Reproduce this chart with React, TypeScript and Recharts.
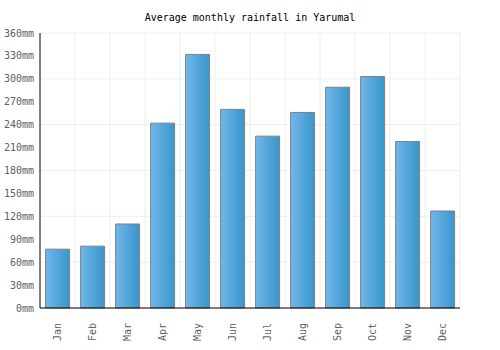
import { Bar, BarChart, CartesianGrid, XAxis, YAxis } from 'recharts'

const months = ['Jan', 'Feb', 'Mar', 'Apr', 'May', 'Jun', 'Jul', 'Aug', 'Sep', 'Oct', 'Nov', 'Dec']
const rainfall = [77, 81, 110, 242, 332, 260, 225, 256, 289, 303, 218, 127]
const yTicks = [0, 30, 60, 90, 120, 150, 180, 210, 240, 270, 300, 330, 360]

const data = months.map((month, i) => ({ month, rainfall: rainfall[i] }))

const font = '"DejaVu Sans Mono", monospace'

function MonthTick({ x, y, payload }: any) {
  return (
    <text
      transform={`translate(${x}, ${y + 7}) rotate(-90)`}
      textAnchor="end"
      dy="0.35em"
      fill="#606060"
      fontSize={10}
      fontFamily={font}
    >
      {payload.value}
    </text>
  )
}

export default function App() {
  return (
    <div style={{ position: 'absolute', left: 0, top: 0, width: 500, height: 350, background: '#fff' }}>
      <div
        style={{
          position: 'absolute',
          top: 12,
          width: 500,
          textAlign: 'center',
          fontFamily: font,
          fontSize: 10,
          color: '#000',
        }}
      >
        Average monthly rainfall in Yarumal
      </div>
      <BarChart
        width={500}
        height={350}
        data={data}
        margin={{ top: 33, right: 40, bottom: 0, left: 0 }}
        barCategoryGap="16%"
      >
        <defs>
          <linearGradient id="barFill" x1="0" y1="0" x2="1" y2="0">
            <stop offset="0%" stopColor="#72b6ea" />
            <stop offset="100%" stopColor="#3796cc" />
          </linearGradient>
        </defs>
        <CartesianGrid
          stroke="#eeeeee"
          verticalCoordinatesGenerator={({ offset }: any) =>
            months.map((_, i) => offset.left + ((i + 1) * offset.width) / months.length)
          }
        />
        <XAxis
          dataKey="month"
          height={42}
          tickLine={false}
          axisLine={{ stroke: '#000' }}
          tick={<MonthTick />}
          interval={0}
        />
        <YAxis
          width={40}
          domain={[0, 360]}
          ticks={yTicks}
          tickFormatter={(v: number) => `${v}mm`}
          tickLine={false}
          tickSize={0}
          tickMargin={6}
          axisLine={{ stroke: '#000' }}
          tick={{ fill: '#606060', stroke: 'none', fontSize: 10, fontFamily: font }}
        />
        <Bar
          dataKey="rainfall"
          fill="url(#barFill)"
          stroke="#808080"
          strokeWidth={1}
          isAnimationActive={false}
        />
      </BarChart>
    </div>
  )
}
